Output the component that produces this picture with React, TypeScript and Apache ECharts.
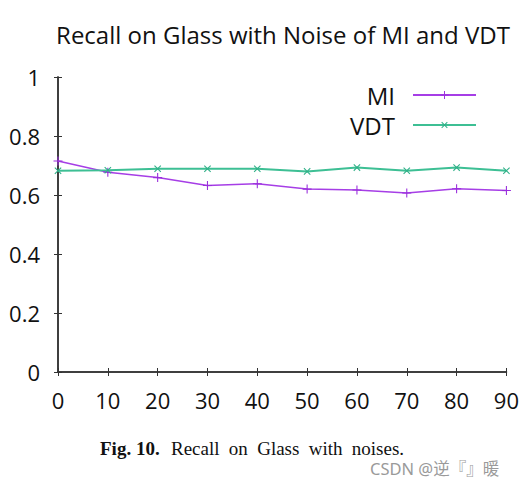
import React, { useEffect, useRef } from "react";
import * as echarts from "echarts";

const noiseLevels = [0, 10, 20, 30, 40, 50, 60, 70, 80, 90];
const miRecall = [0.715, 0.677, 0.659, 0.632, 0.638, 0.62, 0.617, 0.607, 0.621, 0.615];
const vdtRecall = [0.682, 0.684, 0.689, 0.689, 0.689, 0.68, 0.693, 0.682, 0.693, 0.682];
const seriesNames = ["MI", "VDT"];
const titleText = "Recall on Glass with Noise of MI and VDT";
const captionBold = "Fig. 10.";
const captionWords = ["Recall", "on", "Glass", "with", "noises."];
const watermark = "CSDN @逆『』暖";

const plusPath = "path://M-0.6,-5H0.6V-0.6H5V0.6H0.6V5H-0.6V0.6H-5V-0.6H-0.6Z";
const FONT = "'Open Sans', 'Noto Sans', sans-serif";
const SERIF = "'Liberation Serif', 'DejaVu Serif', serif";

export default function App() {
  const ref = useRef<HTMLDivElement>(null);
  useEffect(() => {
    if (!ref.current) return;
    const chart = echarts.init(ref.current, undefined, { renderer: "svg" });
    const axisLine = { show: true, lineStyle: { color: "#333", width: 1.5 } };
    const tick = { show: true, inside: true, length: 4, lineStyle: { color: "#333", width: 1 } };
    chart.setOption({
      animation: false,
      backgroundColor: "#fff",
      title: {
        text: titleText,
        left: 278,
        textAlign: "center",
        top: 17,
        textStyle: { fontFamily: FONT, fontSize: 24, fontWeight: "normal", color: "#111" },
      },
      grid: { left: 58, right: 15, top: 77, bottom: 112 },
      legend: {
        orient: "vertical",
        right: 40,
        top: 78,
        align: "right",
        itemWidth: 63,
        itemHeight: 10,
        itemGap: 6,
        textStyle: { fontFamily: FONT, fontSize: 24, color: "#111", padding: [0, 13, 0, 0] },
        data: seriesNames,
      },
      xAxis: [
        {
          type: "value",
          min: 0,
          max: 90,
          interval: 10,
          position: "bottom",
          axisLine,
          axisTick: tick,
          splitLine: { show: false },
          axisLabel: { fontFamily: FONT, fontSize: 22, color: "#111", margin: 17 },
        },
        {
          type: "value",
          min: 0,
          max: 90,
          interval: 10,
          position: "top",
          axisLine,
          axisTick: tick,
          splitLine: { show: false },
          axisLabel: { show: false },
        },
      ],
      yAxis: [
        {
          type: "value",
          min: 0,
          max: 1,
          interval: 0.2,
          position: "left",
          axisLine,
          axisTick: tick,
          splitLine: { show: false },
          axisLabel: {
            fontFamily: FONT,
            fontSize: 22,
            color: "#111",
            margin: 18,
            formatter: (v: number) => String(Math.round(v * 10) / 10),
          },
        },
        {
          type: "value",
          min: 0,
          max: 1,
          interval: 0.2,
          position: "right",
          axisLine,
          axisTick: tick,
          splitLine: { show: false },
          axisLabel: { show: false },
        },
      ],
      series: [
        {
          name: seriesNames[0],
          type: "line",
          xAxisIndex: 0,
          yAxisIndex: 0,
          data: noiseLevels.map((x, i) => [x, miRecall[i]]),
          symbol: plusPath,
          symbolSize: 9,
          showAllSymbol: true,
          lineStyle: { color: "#a63ee6", width: 1.5 },
          itemStyle: { color: "#9a2fdc" },
        },
        {
          name: seriesNames[1],
          type: "line",
          xAxisIndex: 0,
          yAxisIndex: 0,
          data: noiseLevels.map((x, i) => [x, vdtRecall[i]]),
          symbol: plusPath,
          symbolRotate: 45,
          symbolSize: 9,
          showAllSymbol: true,
          lineStyle: { color: "#3dbf94", width: 2 },
          itemStyle: { color: "#30b088" },
        },
      ],
      graphic: [
        {
          type: "text",
          left: 100,
          top: 439,
          style: {
            text: "{b|" + captionBold + "} " + captionWords.map((w) => "{n|" + w + "}").join(" "),
            rich: {
              b: { fontFamily: SERIF, fontSize: 19, lineHeight: 18, fontWeight: "bold", fill: "#111", padding: [0, 5, 0, 0] },
              n: { fontFamily: SERIF, fontSize: 19, lineHeight: 18, fill: "#111", padding: [0, 3, 0, 3] },
            },
          },
        },
        {
          type: "text",
          left: 370,
          top: 460,
          style: {
            text: watermark,
            fontFamily: "'Noto Sans', 'Noto Sans CJK SC', sans-serif",
            fontSize: 16.5,
            lineHeight: 16,
            fill: "#9a9a9a",
          },
        },
      ],
    });
    return () => chart.dispose();
  }, []);
  return <div ref={ref} style={{ position: "fixed", left: 0, top: 0, width: 522, height: 484 }} />;
}
